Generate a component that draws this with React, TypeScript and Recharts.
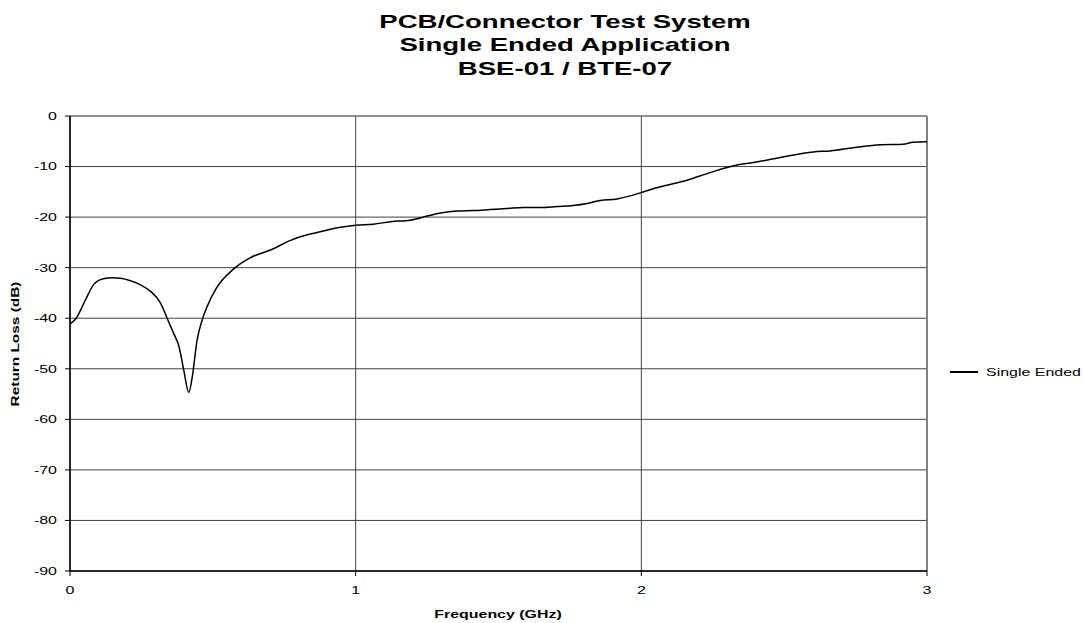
import {
  LineChart,
  Line,
  XAxis,
  YAxis,
  CartesianGrid,
  ReferenceLine,
  Legend,
  Label,
} from "recharts";

// frequency in GHz
const freq = [
  0.0, 0.019, 0.054, 0.082, 0.117, 0.149, 0.177, 0.212, 0.247, 0.282, 0.317,
  0.34, 0.362, 0.381, 0.398, 0.416, 0.428, 0.445, 0.463, 0.48, 0.513, 0.572,
  0.597, 0.632, 0.702, 0.772, 0.806, 0.876, 0.947, 1.0, 1.062, 1.122, 1.191,
  1.25, 1.297, 1.355, 1.412, 1.471, 1.53, 1.587, 1.646, 1.705, 1.762, 1.81,
  1.856, 1.915, 1.961, 1.996, 2.066, 2.16, 2.241, 2.334, 2.392, 2.486, 2.602,
  2.661, 2.742, 2.836, 2.916, 2.951, 3.0,
];

// return loss in dB
const singleEnded = [
  -41.1, -40.2, -36.4, -33.4, -32.2, -32.0, -32.1, -32.6, -33.4, -34.7, -37.0,
  -40.0, -42.9, -45.5, -50.2, -54.7, -51.6, -44.3, -40.3, -37.7, -34.0, -30.3,
  -29.2, -28.0, -26.5, -24.6, -23.9, -22.9, -22.0, -21.6, -21.4, -20.9, -20.6,
  -19.8, -19.2, -18.8, -18.7, -18.5, -18.3, -18.1, -18.1, -17.9, -17.7, -17.3,
  -16.7, -16.4, -15.8, -15.2, -14.0, -12.7, -11.2, -9.7, -9.2, -8.2, -7.1,
  -6.9, -6.3, -5.7, -5.6, -5.2, -5.1,
];

const xTicks = [0, 1, 2, 3];
const yTicks = [-90, -80, -70, -60, -50, -40, -30, -20, -10, 0];
const titleLines = [
  "PCB/Connector Test System",
  "Single Ended Application",
  "BSE-01 / BTE-07",
];

const data = freq.map((f, i) => ({ freq: f, rl: singleEnded[i] }));

const FONT = "'Liberation Sans', Arial, sans-serif";
const STRETCH = 1.45; // the original text is drawn wide

const YTick = ({ x, y, payload }: any) => (
  <g transform={`translate(${x},${y}) scale(${STRETCH},1)`}>
    <text textAnchor="end" dy="0.35em" fontSize={11} fontFamily={FONT} fill="#000">
      {payload.value}
    </text>
  </g>
);

const XTick = ({ x, y, payload }: any) => (
  <g transform={`translate(${x},${y}) scale(${STRETCH},1)`}>
    <text textAnchor="middle" dy="0.71em" fontSize={11} fontFamily={FONT} fill="#000">
      {payload.value}
    </text>
  </g>
);

const LegendContent = () => (
  <div style={{ display: "flex", alignItems: "center", fontFamily: FONT, fontSize: 11 }}>
    <span style={{ display: "inline-block", width: 28, height: 1.5, background: "#000" }} />
    <span
      style={{
        marginLeft: 8,
        display: "inline-block",
        transform: `scaleX(${STRETCH})`,
        transformOrigin: "left center",
        whiteSpace: "nowrap",
      }}
    >
      Single Ended
    </span>
  </div>
);

export default function App() {
  return (
    <div style={{ position: "absolute", left: 0, top: 0, width: 1084, height: 623, background: "#fff" }}>
      <div
        style={{
          position: "absolute",
          left: 565,
          top: 10,
          transform: `translateX(-50%) scaleX(${STRETCH})`,
          fontFamily: FONT,
          fontWeight: "bold",
          fontSize: 19,
          lineHeight: "23.3px",
          textAlign: "center",
          whiteSpace: "nowrap",
          color: "#000",
        }}
      >
        {titleLines.map((t) => (
          <div key={t}>{t}</div>
        ))}
      </div>
      <LineChart
        width={1084}
        height={623}
        data={data}
        margin={{ top: 116, right: 157, bottom: 0, left: 0 }}
      >
        <CartesianGrid stroke="#404040" ticks={xTicks} />
        <XAxis
          dataKey="freq"
          type="number"
          domain={[0, 3]}
          ticks={xTicks}
          height={52}
          tickSize={5}
          tickMargin={10}
          tick={<XTick />}
          axisLine={{ stroke: "#000", strokeWidth: 1.5 }}
          tickLine={{ stroke: "#000" }}
        >
          <Label
            content={() => (
              <g transform={`translate(498,614) scale(${STRETCH},1)`}>
                <text textAnchor="middle" dy="0.35em" fontSize={11} fontWeight="bold" fontFamily={FONT} fill="#000">
                  Frequency (GHz)
                </text>
              </g>
            )}
          />
        </XAxis>
        <YAxis
          type="number"
          domain={[-90, 0]}
          ticks={yTicks}
          width={70}
          tickSize={5}
          tickMargin={8}
          tick={<YTick />}
          axisLine={{ stroke: "#000", strokeWidth: 1.5 }}
          tickLine={{ stroke: "#000" }}
        >
          <Label
            content={() => (
              <g transform="translate(15,344) rotate(-90) scale(1.4,1)">
                <text textAnchor="middle" dy="0.35em" fontSize={11} fontWeight="bold" fontFamily={FONT} fill="#000">
                  Return Loss (dB)
                </text>
              </g>
            )}
          />
        </YAxis>
        <ReferenceLine y={0} stroke="#808080" strokeWidth={1} />
        <ReferenceLine x={3} stroke="#808080" strokeWidth={2} />
        <Legend
          layout="horizontal"
          verticalAlign="middle"
          align="center"
          wrapperStyle={{ left: 950, top: 366, width: 134 }}
          content={<LegendContent />}
        />
        <Line
          type="monotone"
          dataKey="rl"
          stroke="#000"
          strokeWidth={1.5}
          dot={false}
          isAnimationActive={false}
        />
      </LineChart>
    </div>
  );
}
